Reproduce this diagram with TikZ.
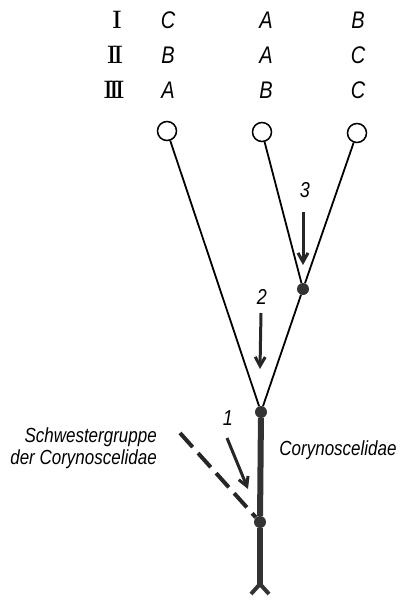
\documentclass[tikz,border=0pt]{standalone}
\usepackage{fontspec}
\usepackage{graphicx}
\newfontfamily\labfont{Liberation Sans}
\usetikzlibrary{arrows.meta}
\newcommand\tall[1]{\scalebox{1}[1.2]{#1}}
\tikzset{
  leaf/.style={circle, draw, line width=1.5pt, minimum size=19pt, inner sep=0pt, fill=white},
  dot/.style={circle, fill=black!80, minimum size=12pt, inner sep=0pt},
  branch/.style={line width=1.8pt},
  stem/.style={line width=6pt, black!80},
  sister/.style={line width=4pt, black!85, dash pattern=on 19pt off 8pt},
  apo/.style={line width=3pt, black!85, -{Straight Barb[length=9pt,width=10pt]}},
  letter/.style={font=\labfont\itshape\fontsize{20}{24}\selectfont, inner sep=0pt},
  num/.style={font=\labfont\itshape\fontsize{18}{22}\selectfont, inner sep=0pt},
  roman/.style={font=\bfseries\fontsize{21}{26}\selectfont, inner sep=0pt},
  taxon/.style={font=\labfont\itshape\fontsize{17}{21}\selectfont, inner sep=0pt},
}
\begin{document}
\begin{tikzpicture}[x=1pt,y=-1pt]
\useasboundingbox (0,0) rectangle (400,603);
% row labels
\node[roman] (r1) at (117,20) {\tall{I}};
\node[roman] (r2) at (115,55) {\tall{I\kern-2.5ptI}};
\node[roman] (r3) at (114,90) {\tall{I\kern-3ptI\kern-3ptI}};
\node[letter] (a1) at (168,20) {\tall{C}};
\node[letter] (a2) at (168,55) {\tall{B}};
\node[letter] (a3) at (168,90) {\tall{A}};
\node[letter] (b1) at (266,20) {\tall{A}};
\node[letter] (b2) at (266,55) {\tall{A}};
\node[letter] (b3) at (266,90) {\tall{B}};
\node[letter] (d1) at (358,20) {\tall{B}};
\node[letter] (d2) at (358,55) {\tall{C}};
\node[letter] (d3) at (358,90) {\tall{C}};
% terminal taxa
\node[leaf] (c1) at (167,131) {};
\node[leaf] (c2) at (262,132) {};
\node[leaf] (c3) at (357,133) {};
% internal nodes
\node[dot] (n3) at (303,289) {};
\node[dot] (n2) at (261,412) {};
\node[dot] (n1) at (260,522) {};
\coordinate (base) at (260,584);
\coordinate (fl) at (251,594);
\coordinate (fr) at (269,594);
\coordinate (sis) at (180,433);
% branches
\draw[branch] (c1) -- (n2);
\draw[branch] (c2) -- (n3);
\draw[branch] (c3) -- (n3);
\draw[branch] (n3) -- (n2);
\draw[stem] (n2) -- (n1);
\draw[stem] (n1) -- (base);
\draw[line width=4pt, black!80] (fl) -- (base) -- (fr);
\draw[sister] (sis) -- (n1);
% apomorphy arrows
\coordinate (a1s) at (227,438); \coordinate (a1e) at (248,489);
\coordinate (a2s) at (261,313); \coordinate (a2e) at (260,369);
\coordinate (a3s) at (303,212); \coordinate (a3e) at (303,265);
\draw[apo] (a1s) -- (a1e);
\draw[apo] (a2s) -- (a2e);
\draw[apo] (a3s) -- (a3e);
\node[num] (l1) at (228,418) {\tall{1}};
\node[num] (l2) at (262,297) {\tall{2}};
\node[num] (l3) at (305,190) {\tall{3}};
% taxon names
\node[taxon] (cory) at (338,450) {\tall{Corynoscelidae}};
\node[taxon, anchor=east, align=right] (schw) at (157,448) {\tall{Schwestergruppe}\\[1pt] \tall{der Corynoscelidae}};
\end{tikzpicture}
\end{document}
